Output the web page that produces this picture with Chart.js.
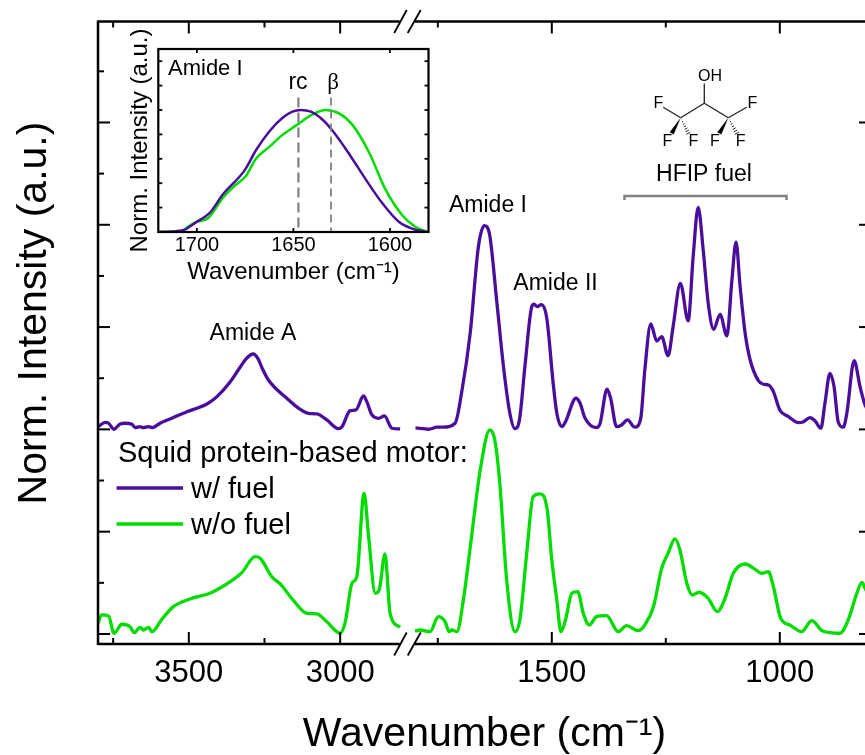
<!DOCTYPE html>
<html>
<head>
<meta charset="utf-8">
<title>Squid protein-based motor</title>
<script src="https://cdn.jsdelivr.net/npm/chart.js@4/dist/chart.umd.js"></script>
<style>
  html, body { margin: 0; padding: 0; background: #fff; overflow: hidden; width: 865px; height: 755px; }
  #main { position: absolute; left: 0; top: 0; }
  #inset { position: absolute; left: 120px; top: 20px; }
</style>
</head>
<body>
<canvas id="main" width="871" height="755"></canvas>
<canvas id="inset" width="320" height="275"></canvas>
<script>
// w/ fuel (null = axis break)
const fuelX = [3800, 3776, 3765, 3747, 3727, 3710, 3688, 3677, 3661, 3651, 3633, 3620, 3595, 3562, 3506, 3440, 3407, 3363, 3330, 3311, 3287, 3271, 3258, 3237, 3176, 3132, 3105, 3077, 3044, 3006, 2994, 2967, 2948, 2923, 2912, 2895, 2873, 2854, 2829, 2802,
  2300,
  1799, 1770, 1752, 1738, 1712, 1698, 1679, 1661, 1648, 1637, 1621, 1606, 1592, 1581, 1571, 1559, 1544, 1539, 1532, 1523, 1511, 1497, 1489, 1478, 1470, 1447, 1438, 1427, 1402, 1394, 1379, 1371, 1358, 1347, 1334, 1318, 1305, 1296, 1283, 1270, 1259, 1245, 1234, 1218, 1201, 1190, 1179, 1168, 1157, 1145, 1131, 1116, 1105, 1096, 1087, 1076, 1065, 1047, 1036, 1025, 1014, 1000, 981, 959, 948, 934, 923, 910, 901, 890, 881, 872, 861, 853, 837, 824, 813, 800];
const fuelY = [2.026, 2.069, 2.060, 2.001, 2.053, 2.060, 2.050, 2.017, 2.026, 2.017, 2.026, 2.017, 2.060, 2.102, 2.173, 2.248, 2.320, 2.466, 2.610, 2.690, 2.737, 2.690, 2.600, 2.483, 2.304, 2.196, 2.157, 2.151, 2.092, 2.007, 2.026, 2.183, 2.190, 2.326, 2.271, 2.141, 2.108, 2.131, 2.011, 2.004,
  null,
  2.014, 2.001, 2.021, 2.021, 2.060, 2.353, 2.939, 3.786, 3.991, 3.917, 3.265, 2.613, 2.157, 2.007, 2.092, 2.613, 3.199, 3.223, 3.199, 3.219, 3.086, 2.451, 2.157, 2.026, 2.075, 2.304, 2.255, 2.108, 2.017, 2.060, 2.392, 2.304, 2.026, 2.043, 2.092, 2.021, 2.108, 2.581, 3.030, 2.864, 2.906, 2.720, 3.004, 3.428, 3.060, 3.688, 4.171, 3.754, 3.233, 2.978, 3.125, 2.913, 3.460, 3.829, 3.395, 2.939, 2.678, 2.476, 2.441, 2.434, 2.369, 2.190, 2.124, 2.065, 2.075, 2.114, 2.085, 2.011, 2.255, 2.548, 2.417, 2.075, 2.021, 2.157, 2.672, 2.417, 2.238, 2.140];

// w/o fuel
const noFuelX = [3800, 3788, 3765, 3747, 3721, 3694, 3680, 3661, 3650, 3633, 3622, 3589, 3551, 3496, 3430, 3363, 3325, 3281, 3264, 3226, 3198, 3154, 3110, 3077, 3044, 3000, 2983, 2961, 2945, 2921, 2906, 2884, 2871, 2852, 2835, 2802,
  2300,
  1800, 1789, 1767, 1749, 1734, 1725, 1719, 1708, 1694, 1676, 1657, 1636, 1625, 1614, 1599, 1581, 1570, 1555, 1541, 1526, 1510, 1500, 1489, 1480, 1470, 1456, 1443, 1431, 1418, 1402, 1380, 1354, 1336, 1311, 1296, 1277, 1259, 1245, 1230, 1219, 1204, 1192, 1177, 1157, 1137, 1120, 1102, 1076, 1054, 1040, 1025, 1014, 998, 978, 952, 930, 906, 868, 850, 831, 820, 813, 800];
const noFuelY = [0.105, 0.186, 0.176, 0.007, 0.095, 0.071, 0.013, 0.065, 0.039, 0.065, 0.022, 0.144, 0.267, 0.342, 0.398, 0.511, 0.599, 0.756, 0.740, 0.560, 0.489, 0.326, 0.202, 0.196, 0.120, 0.007, 0.120, 0.496, 0.560, 1.375, 0.951, 0.398, 0.430, 0.782, 0.202, 0.065,
  null,
  0.029, 0.039, 0.022, 0.169, 0.120, 0.022, 0.039, 0.022, 0.332, 0.951, 1.603, 1.994, 1.896, 1.473, 0.528, 0.022, 0.137, 0.789, 1.342, 1.369, 1.212, 0.723, 0.332, 0.022, 0.137, 0.398, 0.413, 0.202, 0.088, 0.169, 0.179, 0.022, 0.081, 0.032, 0.088, 0.267, 0.642, 0.789, 0.929, 0.821, 0.496, 0.381, 0.408, 0.349, 0.218, 0.349, 0.593, 0.684, 0.632, 0.593, 0.609, 0.462, 0.153, 0.088, 0.022, 0.130, 0.029, 0.007, 0.137, 0.398, 0.505, 0.447, 0.332];

const xMajorTicks = [3500, 3000, 1500, 1000];
const xMinorTicks = [3750, 3250, 1750, 1250];
const yMajorTicks = [0, 1, 2, 3, 4, 5];
const yMinorTicks = [0.5, 1.5, 2.5, 3.5, 4.5, 5.5];

// inset, Amide I band
const insetFuelX = [1720, 1711, 1706, 1700, 1693.5, 1686.6, 1675.4, 1669.4, 1662.5, 1655.6, 1650.5, 1646.2, 1641, 1635, 1629.8, 1621.2, 1612.6, 1604, 1595.4, 1588.5, 1580.8];
const insetFuelY = [0, 0.006, 0.022, 0.084, 0.154, 0.307, 0.503, 0.670, 0.824, 0.936, 0.986, 1, 0.986, 0.922, 0.832, 0.642, 0.433, 0.237, 0.084, 0.028, 0];
const insetNoFuelX = [1720, 1708, 1704.6, 1700, 1694.3, 1686.6, 1680.6, 1674.5, 1669.4, 1662.5, 1655.6, 1648.7, 1640.1, 1633.3, 1626.4, 1619.5, 1610.9, 1602.3, 1593.7, 1586.8, 1580.8];
const insetNoFuelY = [0, 0.006, 0.042, 0.084, 0.112, 0.279, 0.377, 0.461, 0.601, 0.698, 0.796, 0.872, 0.964, 1, 0.972, 0.880, 0.656, 0.349, 0.140, 0.042, 0];
const rcX = [1647.4, 1647.4];
const betaX = [1630.5, 1630.5];
const markerY = [1.103, -0.02];
const insetXTicks = [1700, 1650, 1600];
const insetYTicks = [0.2, 0.4, 0.6, 0.8, 1, 1.2, 1.4];

const PURPLE = '#4a0e9c';
const GREEN = '#00dc00';
const GREY = '#808080';
const FONT = '"Liberation Sans", Arial, sans-serif';

function points(xs, ys) {
    return xs.map((x, i) => ({ x: x, y: ys[i] }));
}

// x axis with a gap between 2800 and 1800
class BrokenScale extends Chart.LinearScale {
    getPixelForValue(value) {
        if (value === null || isNaN(value)) return NaN;
        let frac;
        if (value >= 2800) {
            frac = (3800 - value) / 1000 * 0.3916;
        } else if (value <= 1800) {
            frac = 0.4101 + (1800 - value) / 1000 * 0.5899;
        } else {
            frac = 0.4;
        }
        return this.getPixelForDecimal(frac);
    }
}
BrokenScale.id = 'broken';
BrokenScale.defaults = Chart.LinearScale.defaults;
Chart.register(BrokenScale);

function line(ctx, x1, y1, x2, y2) {
    ctx.beginPath();
    ctx.moveTo(x1, y1);
    ctx.lineTo(x2, y2);
    ctx.stroke();
}

function text(ctx, str, x, y, font, align) {
    ctx.font = font;
    ctx.textAlign = align || 'center';
    ctx.textBaseline = 'middle';
    ctx.fillStyle = '#000';
    ctx.fillText(str, x, y);
}

// hashed and solid bonds of the HFIP drawing
function wedge(ctx, x1, y1, x2, y2) {
    const nx = -(y2 - y1) * 0.13, ny = (x2 - x1) * 0.13;
    ctx.beginPath();
    ctx.moveTo(x1, y1);
    ctx.lineTo(x2 + nx, y2 + ny);
    ctx.lineTo(x2 - nx, y2 - ny);
    ctx.closePath();
    ctx.fill();
}

function hash(ctx, x1, y1, x2, y2) {
    const nx = -(y2 - y1), ny = x2 - x1;
    ctx.lineWidth = 1;
    for (let t = 0.1; t <= 1; t += 0.15) {
        const cx = x1 + (x2 - x1) * t, cy = y1 + (y2 - y1) * t;
        line(ctx, cx - nx * 0.13 * t, cy - ny * 0.13 * t, cx + nx * 0.13 * t, cy + ny * 0.13 * t);
    }
}

function drawMolecule(ctx) {
    ctx.save();
    ctx.strokeStyle = '#222';
    ctx.fillStyle = '#000';
    ctx.lineWidth = 1.3;
    line(ctx, 704.3, 83.5, 704.3, 103.3);
    line(ctx, 704.3, 103.3, 680.7, 117.7);
    line(ctx, 704.3, 103.3, 728.3, 117.7);
    line(ctx, 680.7, 117.7, 663.3, 107.3);
    line(ctx, 728.3, 117.7, 746.7, 107.3);
    wedge(ctx, 680.7, 117.7, 671.7, 133.3);
    wedge(ctx, 728.3, 117.7, 719.3, 133.3);
    hash(ctx, 680.7, 117.7, 688.3, 133.3);
    hash(ctx, 728.3, 117.7, 736.7, 133.3);
    const f = '16px ' + FONT;
    text(ctx, 'OH', 710, 77, f);
    text(ctx, 'F', 658.5, 104, f);
    text(ctx, 'F', 752.5, 104, f);
    text(ctx, 'F', 667.3, 142, f);
    text(ctx, 'F', 693.3, 142, f);
    text(ctx, 'F', 715, 142, f);
    text(ctx, 'F', 740.7, 142, f);
    ctx.restore();
}

const framePlugin = {
    id: 'frame',
    afterDraw(chart) {
        const ctx = chart.ctx, xs = chart.scales.x, ys = chart.scales.y, area = chart.chartArea;
        const gapL = xs.getPixelForValue(2800), gapR = xs.getPixelForValue(1800);
        ctx.save();
        ctx.strokeStyle = '#000';
        ctx.lineWidth = 2.5;
        ctx.lineCap = 'butt';

        // spines, split at the break
        line(ctx, area.left, area.top - 1, area.left, area.bottom + 1);
        line(ctx, area.right, area.top, area.right, area.bottom);
        [area.top, area.bottom].forEach(y => {
            line(ctx, area.left, y, gapL - 1, y);
            line(ctx, gapR, y, area.right, y);
        });

        // ticks point inwards on all four sides
        ctx.lineWidth = 2;
        xMajorTicks.forEach(v => {
            const p = xs.getPixelForValue(v);
            line(ctx, p, area.bottom, p, area.bottom - 12);
            line(ctx, p, area.top, p, area.top + 12);
        });
        xMinorTicks.forEach(v => {
            const p = xs.getPixelForValue(v);
            line(ctx, p, area.bottom, p, area.bottom - 6);
            line(ctx, p, area.top, p, area.top + 6);
        });
        yMajorTicks.forEach(v => {
            const p = ys.getPixelForValue(v);
            line(ctx, area.left, p, area.left + 12, p);
            line(ctx, area.right, p, area.right - 12, p);
        });
        yMinorTicks.forEach(v => {
            const p = ys.getPixelForValue(v);
            line(ctx, area.left, p, area.left + 6, p);
            line(ctx, area.right, p, area.right - 6, p);
        });

        // axis break marks
        ctx.lineWidth = 1.8;
        [area.top, area.bottom].forEach(y => {
            line(ctx, gapL - 6.5, y + 11.5, gapL + 6, y - 11.5);
            line(ctx, gapL + 7, y + 11.5, gapL + 20, y - 11.5);
        });

        // y title is not centred on the plot area, so it goes here
        ctx.save();
        ctx.translate(35, 313);
        ctx.rotate(-Math.PI / 2);
        text(ctx, 'Norm. Intensity (a.u.)', 0, 0, '41px ' + FONT);
        ctx.restore();

        // peak labels
        const labelFont = '23px ' + FONT;
        text(ctx, 'Amide A', 253, 334, labelFont);
        text(ctx, 'Amide I', 488, 206, labelFont);
        text(ctx, 'Amide II', 555.5, 284, labelFont);
        text(ctx, 'HFIP fuel', 704, 175, labelFont);

        // HFIP bracket
        ctx.strokeStyle = GREY;
        ctx.lineWidth = 2.5;
        ctx.beginPath();
        ctx.moveTo(624.5, 200);
        ctx.lineTo(624.5, 196);
        ctx.lineTo(786.5, 196);
        ctx.lineTo(786.5, 200);
        ctx.stroke();
        drawMolecule(ctx);

        // legend
        const legendFont = '29px ' + FONT;
        text(ctx, 'Squid protein-based motor:', 118, 454, legendFont, 'left');
        text(ctx, 'w/ fuel', 191, 490, legendFont, 'left');
        text(ctx, 'w/o fuel', 191, 526, legendFont, 'left');
        ctx.lineWidth = 3.3;
        ctx.strokeStyle = PURPLE;
        line(ctx, 116.5, 488, 183, 488);
        ctx.strokeStyle = GREEN;
        line(ctx, 116.5, 524, 183, 524);
        ctx.restore();
    }
};

const insetPlugin = {
    id: 'insetFrame',
    afterDraw(chart) {
        const ctx = chart.ctx, xs = chart.scales.x, ys = chart.scales.y, area = chart.chartArea;
        ctx.save();
        ctx.strokeStyle = '#000';
        ctx.lineWidth = 2.2;
        ctx.strokeRect(area.left, area.top, area.right - area.left, area.bottom - area.top);
        ctx.lineWidth = 1.8;
        insetXTicks.forEach(v => {
            const p = xs.getPixelForValue(v);
            line(ctx, p, area.bottom, p, area.bottom - 4);
            line(ctx, p, area.top, p, area.top + 4);
        });
        insetYTicks.forEach(v => {
            const p = ys.getPixelForValue(v);
            line(ctx, area.left, p, area.left + 4, p);
            line(ctx, area.right, p, area.right - 4, p);
        });
        text(ctx, 'Amide I', 48, 49, '22px ' + FONT, 'left');
        text(ctx, 'rc', 178, 63, '23px ' + FONT);
        text(ctx, 'β', 213, 63, '23px "Liberation Serif", serif');
        ctx.restore();
    }
};

new Chart(document.getElementById('main'), {
    type: 'line',
    data: {
        datasets: [
            { label: 'w/ fuel', data: points(fuelX, fuelY), borderColor: PURPLE, borderWidth: 3.3, pointRadius: 0, cubicInterpolationMode: 'monotone', spanGaps: false },
            { label: 'w/o fuel', data: points(noFuelX, noFuelY), borderColor: GREEN, borderWidth: 3.3, pointRadius: 0, cubicInterpolationMode: 'monotone', spanGaps: false }
        ]
    },
    options: {
        responsive: false,
        animation: false,
        events: [],
        layout: { padding: { top: 21.5, left: 0, right: 0, bottom: 0 } },
        plugins: { legend: { display: false }, tooltip: { enabled: false } },
        scales: {
            x: {
                type: 'broken',
                min: 800,
                max: 3800,
                afterBuildTicks: axis => { axis.ticks = xMajorTicks.map(v => ({ value: v })); },
                afterFit: axis => { axis.height = 111; },
                grid: { display: false, drawTicks: false },
                border: { display: false },
                ticks: {
                    autoSkip: false,
                    maxRotation: 0,
                    padding: 11,
                    color: '#000',
                    font: { family: FONT, size: 31 },
                    callback: v => String(v)
                },
                title: {
                    display: true,
                    text: 'Wavenumber (cm⁻¹)',
                    color: '#000',
                    font: { family: FONT, size: 41, lineHeight: 1 },
                    padding: { top: 0, bottom: 0 }
                }
            },
            y: {
                type: 'linear',
                min: -0.098,
                max: 5.987,
                afterFit: axis => { axis.width = 98; },
                grid: { display: false, drawTicks: false },
                border: { display: false },
                ticks: { display: false }
            }
        }
    },
    plugins: [framePlugin]
});

new Chart(document.getElementById('inset'), {
    type: 'line',
    data: {
        datasets: [
            { label: 'rc', data: points(rcX, markerY), borderColor: GREY, borderWidth: 2.2, borderDash: [10, 5], pointRadius: 0 },
            { label: 'β', data: points(betaX, markerY), borderColor: GREY, borderWidth: 1.8, borderDash: [8, 5], pointRadius: 0 },
            { label: 'w/ fuel', data: points(insetFuelX, insetFuelY), borderColor: PURPLE, borderWidth: 2.5, pointRadius: 0, cubicInterpolationMode: 'monotone' },
            { label: 'w/o fuel', data: points(insetNoFuelX, insetNoFuelY), borderColor: GREEN, borderWidth: 2.5, pointRadius: 0, cubicInterpolationMode: 'monotone' }
        ]
    },
    options: {
        responsive: false,
        animation: false,
        events: [],
        layout: { padding: { top: 29, left: 0, right: 11.5, bottom: 0 } },
        plugins: { legend: { display: false }, tooltip: { enabled: false } },
        scales: {
            x: {
                type: 'linear',
                reverse: true,
                min: 1580,
                max: 1720,
                afterBuildTicks: axis => { axis.ticks = insetXTicks.map(v => ({ value: v })); },
                afterFit: axis => { axis.height = 63; },
                grid: { display: false, drawTicks: false },
                border: { display: false },
                ticks: {
                    autoSkip: false,
                    maxRotation: 0,
                    padding: 1,
                    color: '#000',
                    font: { family: FONT, size: 20 },
                    callback: v => String(v)
                },
                title: {
                    display: true,
                    text: 'Wavenumber (cm⁻¹)',
                    color: '#000',
                    font: { family: FONT, size: 24 },
                    padding: { top: 0, bottom: 8 }
                }
            },
            y: {
                type: 'linear',
                min: 0,
                max: 1.5,
                afterFit: axis => { axis.width = 38.3; },
                grid: { display: false, drawTicks: false },
                border: { display: false },
                ticks: { display: false },
                title: {
                    display: true,
                    text: 'Norm. Intensity (a.u.)',
                    color: '#000',
                    font: { family: FONT, size: 24 },
                    padding: { top: 6, bottom: 0 }
                }
            }
        }
    },
    plugins: [insetPlugin]
});
</script>
</body>
</html>
